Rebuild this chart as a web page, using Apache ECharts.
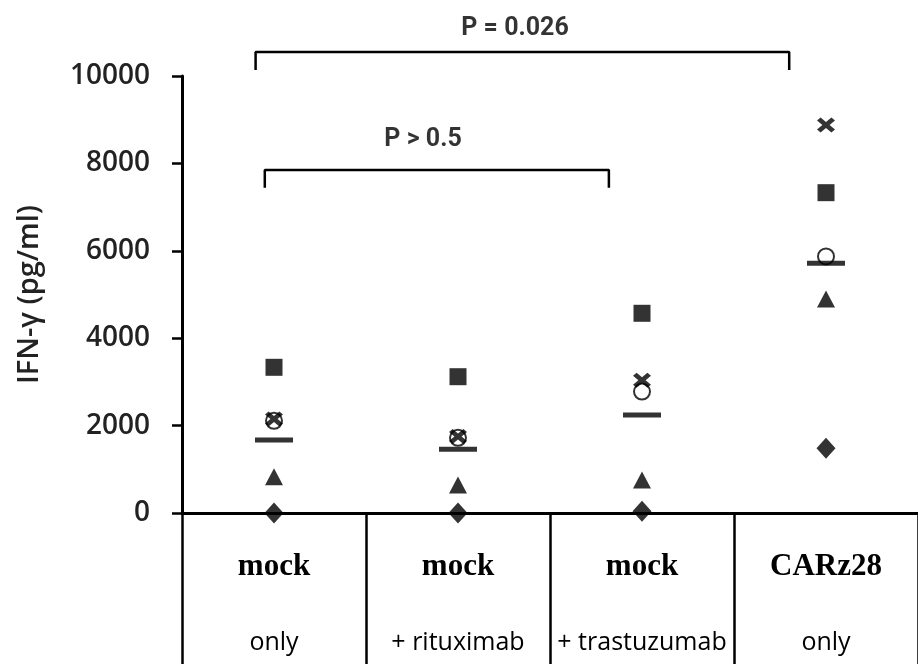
<!DOCTYPE html>
<html>
<head>
<meta charset="utf-8">
<title>IFN-γ</title>
<script src="https://cdn.jsdelivr.net/npm/echarts@6/dist/echarts.min.js"></script>
<style>
  html, body { margin: 0; padding: 0; background: #fff; }
  #chart { width: 918px; height: 664px; }
</style>
</head>
<body>
<div id="chart"></div>
<script>
// groups (two label lines under the axis)
const groups = ['mock', 'mock', 'mock', 'CARz28']
const groupSub = ['only', '+ rituximab', '+ trastuzumab', 'only']

// one value per group for every marker kind (pg/ml)
const diamondVals = [0, 0, 40, 1480]
const squareVals = [3334, 3119, 4570, 7330]
const triangleVals = [830, 640, 755, 4897]
const crossVals = [2150, 1750, 3040, 8880]
const circleVals = [2110, 1720, 2780, 5870]
const meanVals = [1670, 1457, 2243, 5713]

// y axis
const yMin = 0
const yMax = 10000
const yStep = 2000

// significance brackets: [from, to] in group units, bar height, foot height
const pTexts = ['P = 0.026', 'P > 0.5']
const pTextAt = [[1.31, 11080], [0.81, 8540]]
const bracketSpans = [[-0.1, 2.8], [-0.05, 1.82]]
const bracketTops = [10550, 7850]
const bracketFeet = [10140, 7440]

const black = '#000'
const crossPath = 'path://M2,0 L5,3 L8,0 L10,2 L7,5 L10,8 L8,10 L5,7 L2,10 L0,8 L3,5 L0,2 Z'

function markSeries (name, vals, symbol, size, extra) {
  return Object.assign({
    name,
    type: 'scatter',
    xAxisIndex: 0,
    data: vals,
    symbol,
    symbolSize: size,
    itemStyle: { color: black },
    clip: false
  }, extra || {})
}

const bracketSeries = bracketSpans.map((span, i) => ({
  type: 'line',
  xAxisIndex: 1,
  symbol: 'none',
  clip: false,
  lineStyle: { color: black, width: 2.5 },
  data: [
    [span[0], bracketFeet[i]],
    [span[0], bracketTops[i]],
    [span[1], bracketTops[i]],
    [span[1], bracketFeet[i]]
  ]
}))

const pSeries = {
  type: 'scatter',
  xAxisIndex: 1,
  symbolSize: 0,
  clip: false,
  data: pTexts.map((t, i) => ({ value: pTextAt[i], name: t })),
  label: {
    show: true,
    position: 'inside',
    formatter: p => p.name,
    color: black,
    fontFamily: 'Roboto',
    fontWeight: 'bold',
    fontSize: 25
  }
}

const option = {
  animation: false,
  backgroundColor: '#fff',
  grid: {
    left: 182,
    top: 76,
    bottom: 151,
    width: 747
  },
  xAxis: [
    {
      type: 'category',
      data: groups,
      boundaryGap: true,
      axisLine: { lineStyle: { color: black, width: 3 } },
      axisTick: {
        show: true,
        interval: 0,
        length: 160,
        lineStyle: { color: black, width: 2.5 }
      },
      axisLabel: {
        interval: 0,
        margin: 16,
        formatter (value, i) {
          return '{a|' + value + '}\n{b|' + groupSub[i] + '}'
        },
        rich: {
          a: {
            fontFamily: 'Liberation Serif',
            fontWeight: 'bold',
            fontSize: 31,
            lineHeight: 76,
            color: black
          },
          b: {
            fontFamily: 'Open Sans',
            fontSize: 25,
            lineHeight: 76,
            color: black
          }
        }
      },
      splitLine: { show: false }
    },
    {
      type: 'value',
      min: -0.5,
      max: 3.5,
      show: false
    }
  ],
  yAxis: {
    type: 'value',
    min: yMin,
    max: yMax,
    interval: yStep,
    name: 'IFN-γ (pg/ml)',
    nameLocation: 'middle',
    nameGap: 138,
    nameTextStyle: {
      fontFamily: 'Open Sans',
      fontWeight: 600,
      fontSize: 29,
      color: '#222'
    },
    axisLine: { show: true, onZero: false, lineStyle: { color: black, width: 3 } },
    axisTick: { show: true, length: 10, lineStyle: { color: black, width: 2.5 } },
    axisLabel: {
      margin: 32,
      fontFamily: 'Open Sans',
      fontWeight: 600,
      fontSize: 28,
      color: '#222',
      formatter: v => String(v)
    },
    splitLine: { show: false }
  },
  series: [
    markSeries('circle', circleVals, 'emptyCircle', 16, {
      itemStyle: { color: black, borderWidth: 3.5 }
    }),
    markSeries('cross', crossVals, crossPath, [18, 15]),
    markSeries('square', squareVals, 'rect', 17),
    markSeries('triangle', triangleVals, 'triangle', [18, 17]),
    markSeries('diamond', diamondVals, 'diamond', [19, 21]),
    markSeries('mean', meanVals, 'rect', [38, 5])
  ].concat(bracketSeries, [pSeries])
}

const myChart = echarts.init(document.getElementById('chart'))
myChart.setOption(option)
</script>
</body>
</html>
